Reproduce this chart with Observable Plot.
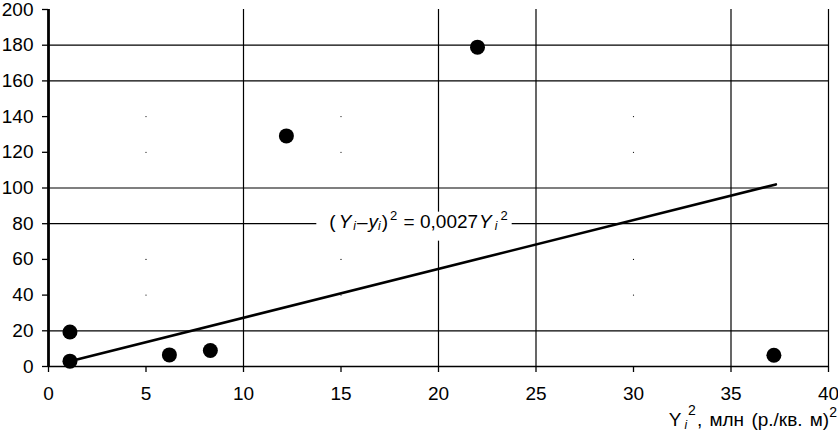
<!DOCTYPE html>
<html><head><meta charset="utf-8">
<script src="https://cdn.jsdelivr.net/npm/d3@7"></script>
<script src="https://cdn.jsdelivr.net/npm/@observablehq/plot@0.6"></script>
<style>body{margin:0;background:#fff} svg{display:block}</style>
</head><body><div id="chart"></div>
<script>
// observed points
const xValues = [1.1, 1.1, 6.2, 8.3, 12.2, 22.0, 37.2];
const yValues = [19.3, 3.0, 6.5, 9.0, 129.2, 178.9, 6.3];
// fitted line endpoints
const trendX = [1.1, 37.3];
const trendY = [3.0, 102.0];
// ticks
const xTicks = [0, 5, 10, 15, 20, 25, 30, 35, 40];
const yTicks = [0, 20, 40, 60, 80, 100, 120, 140, 160, 180, 200];
// grid lines visible in the picture
const xGrid = [10, 20, 25, 35, 40];
const yGrid = [20, 80, 100, 160, 180];
// faint specks left where other grid lines crossed
const speckX = [5, 15, 30];
const speckY = [40, 60, 120, 140];
// annotation anchor (centre, baseline)
const noteX = [19.0];
const noteY = [77.5];

const points = xValues.map((x, i) => ({x, y: yValues[i]}));
const trend = trendX.map((x, i) => ({x, y: trendY[i]}));
const specks = speckX.flatMap(x => speckY.map(y => ({x, y})));

const FONT = "'Liberation Sans', Arial, sans-serif";

const plot = Plot.plot({
  width: 838, height: 436,
  marginLeft: 48, marginRight: 10, marginTop: 9, marginBottom: 70,
  style: {fontFamily: FONT, fontSize: "19px", color: "#000", background: "#fff", overflow: "visible"},
  x: {domain: [0, 40]},
  y: {domain: [0, 200]},
  marks: [
    Plot.ruleX(xGrid, {y1: 0, y2: 200, stroke: "#000", strokeWidth: 1.2}),
    Plot.ruleY(yGrid, {x1: 0, x2: 40, stroke: "#000", strokeWidth: 1.2}),
    Plot.dot(specks, {x: "x", y: "y", r: 0.6, fill: "#000"}),
    Plot.axisX({ticks: xTicks, tickSize: 6, tickPadding: 14, label: null, stroke: "#000", strokeWidth: 1.3, fontSize: 19}),
    Plot.axisY({ticks: yTicks, tickSize: 6, tickPadding: 9, label: null, stroke: "#000", strokeWidth: 1.3, fontSize: 19}),
    Plot.ruleY([0], {x1: 0, x2: 40, stroke: "#000", strokeWidth: 1.5}),
    Plot.ruleX([0], {y1: 0, y2: 200, stroke: "#000", strokeWidth: 2.8}),
    Plot.line(trend, {x: "x", y: "y", stroke: "#000", strokeWidth: 2.6}),
    Plot.dot(points, {x: "x", y: "y", r: 7.5, fill: "#000", stroke: "none"})
  ]
});
document.getElementById("chart").appendChild(plot);

const svg = d3.select(plot);
const sx = plot.scale("x"), sy = plot.scale("y");

function addParts(t, parts) {
  for (const p of parts) {
    const ts = t.append("tspan").text(p.t);
    if (p.it) ts.attr("font-style", "italic");
    if (p.dx) ts.attr("dx", p.dx);
    if (p.dy) ts.attr("dy", p.dy);
    if (p.fs) ts.attr("font-size", p.fs);
  }
}

// equation annotation with white background
const ng = svg.append("g");
const baseY = sy.apply(noteY[0]);
const nt = ng.append("text")
  .attr("x", sx.apply(noteX[0])).attr("y", baseY)
  .attr("text-anchor", "middle").attr("font-family", FONT).attr("font-size", 19).attr("fill", "#000");
addParts(nt, [
  {t: "("}, {t: "Y", it: true, dx: 3}, {t: "i", it: true, dx: 2, dy: 2, fs: 12},
  {t: "\u2013", dx: 1, dy: -2}, {t: "y", it: true, dx: 1}, {t: "i", it: true, dy: 2, fs: 12},
  {t: ")", dx: 1, dy: -2}, {t: "2", dx: 2, dy: -8, fs: 13},
  {t: " = 0,0027", dx: 1, dy: 8}, {t: "Y", it: true, dx: 1}, {t: "i", it: true, dx: 3, dy: 2, fs: 12},
  {t: "2", dx: 3, dy: -10, fs: 13}
]);
const bb = nt.node().getBBox();
ng.insert("rect", "text")
  .attr("x", bb.x - 13).attr("y", baseY - 16).attr("width", bb.width + 17).attr("height", 29)
  .attr("fill", "#fff");

// x axis title
const at = svg.append("text")
  .attr("x", 837).attr("y", 426)
  .attr("text-anchor", "end").attr("font-family", FONT).attr("font-size", 19)
  .attr("word-spacing", 2).attr("fill", "#000");
addParts(at, [
  {t: "Y"}, {t: "i", it: true, dx: 3, dy: 3, fs: 12},
  {t: "2", dx: 1, dy: -14, fs: 14},
  {t: ",", dx: 1, dy: 11},
  {t: " млн (р./кв. м)"},
  {t: "2", dy: -9, fs: 14}
]);
</script>
</body></html>
